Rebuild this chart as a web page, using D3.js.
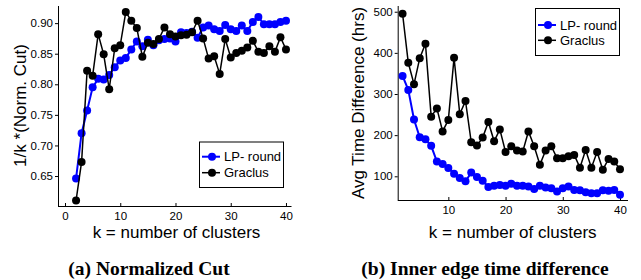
<!DOCTYPE html>
<html><head><meta charset="utf-8">
<script src="https://cdn.jsdelivr.net/npm/d3@7"></script>
<style>
body{margin:0;background:#fff;}
svg{display:block;}
text{font-family:"Liberation Sans",Arial,sans-serif;fill:#000;}
.cap{font-family:"Liberation Serif","Times New Roman",serif;font-weight:bold;}
</style></head><body>
<svg id="c" width="641" height="280"></svg>
<script>
const ks = d3.range(2, 41);
const seriesNames = ["LP- round", "Graclus"];
const ncutLP = [0.646,0.720,0.757,0.795,0.809,0.808,0.815,0.828,0.839,0.843,0.857,0.870,0.862,0.873,0.864,0.872,0.874,0.875,0.870,0.885,0.884,0.886,0.876,0.893,0.896,0.890,0.887,0.897,0.890,0.887,0.896,0.887,0.902,0.910,0.898,0.898,0.898,0.902,0.904];
const ncutGr = [0.610,0.673,0.822,0.814,0.882,0.849,0.792,0.859,0.864,0.918,0.904,0.892,0.845,0.868,0.866,0.874,0.893,0.882,0.878,0.880,0.881,0.885,0.904,0.875,0.842,0.846,0.817,0.874,0.844,0.851,0.855,0.860,0.871,0.853,0.851,0.862,0.853,0.877,0.857];
const timeLP = [344,310,238,195,190,174,136,130,120,106,96,88,109,98,89,74,77,79,77,82,77,77,75,69,77,73,71,63,71,75,67,66,61,59,59,66,65,67,55];
const timeGr = [495,376,324,387,422,245,265,209,237,388,251,283,183,175,194,232,185,214,159,173,163,160,209,173,128,163,173,144,144,149,152,121,164,121,159,116,142,136,117];
const ncutTicks = [0.65,0.70,0.75,0.80,0.85,0.90];
const timeTicks = [100,200,300,400,500];
const kTicksA = [0,10,20,30,40];
const kTicksB = [10,20,30,40];
const colors = ["#0000ff", "#000000"];

const svg = d3.select("#c");

function panel(cfg){
  const g = svg.append("g");
  const x = d3.scaleLinear().domain(cfg.xd).range(cfg.xr);
  const y = d3.scaleLinear().domain(cfg.yd).range(cfg.yr);
  const xa = g.append("g").attr("transform",`translate(0,${cfg.yr[0]})`)
    .call(d3.axisBottom(x).tickValues(cfg.xt).tickSizeInner(-3).tickSizeOuter(0).tickPadding(6).tickFormat(d3.format("d")));
  const ya = g.append("g").attr("transform",`translate(${cfg.xr[0]},0)`)
    .call(d3.axisLeft(y).tickValues(cfg.yt).tickSizeInner(3).tickSizeOuter(0).tickPadding(2).tickFormat(cfg.yf));
  [xa,ya].forEach(a=>{
    a.selectAll("text").style("font-size","11.5px").style("font-family","Liberation Sans, Arial, sans-serif").attr("fill","#000");
    a.selectAll("line,path").attr("stroke","#000");
  });
  ya.select("path").attr("d",`M0.5,${cfg.yr[1]}V${cfg.yr[0]}`);
  xa.select("path").attr("d",`M${cfg.xr[0]},0.5H${cfg.xr[1]}`);
  cfg.series.forEach((vals,i)=>{
    const pts = ks.map((k,j)=>[k, vals[j]]);
    g.append("path").datum(pts)
      .attr("fill","none").attr("stroke",colors[i]).attr("stroke-width", i===0?2:1.5)
      .attr("d", d3.line().x(d=>x(d[0])).y(d=>y(d[1])));
    g.selectAll(null).data(pts).enter().append("circle")
      .attr("cx",d=>x(d[0])).attr("cy",d=>y(d[1])).attr("r",4).attr("fill",colors[i]);
  });
  g.append("text").attr("x",cfg.xlab[0]).attr("y",cfg.xlab[1]).attr("text-anchor","middle")
    .style("font-size","17px").text("k = number of clusters");
  g.append("text").attr("transform",`translate(${cfg.ylab[0]},${cfg.ylab[1]}) rotate(-90)`)
    .attr("text-anchor","middle").style("font-size","17px").text(cfg.ylabText);
  const L = cfg.leg;
  g.append("rect").attr("x",L.x+0.5).attr("y",L.y+0.5).attr("width",L.w).attr("height",L.h)
    .attr("fill","#fff").attr("stroke","#000").attr("stroke-width",1);
  seriesNames.forEach((n,i)=>{
    const yy = L.y + L.first + i*L.gap;
    g.append("line").attr("x1",L.x+3).attr("x2",L.x+21).attr("y1",yy).attr("y2",yy)
      .attr("stroke",colors[i]).attr("stroke-width",i===0?2:1.5);
    g.append("circle").attr("cx",L.x+13).attr("cy",yy).attr("r",4).attr("fill",colors[i]);
    g.append("text").attr("x",L.x+25).attr("y",yy+4.5).style("font-size","13px").text(n);
  });
  g.append("text").attr("class","cap").attr("x",cfg.cap).attr("y",275).attr("text-anchor","middle")
    .style("font-size","19.5px").text(cfg.capText);
}

panel({
  xd:[-1.27,41.0], xr:[58,291.5], yd:[0.601,0.928], yr:[206,6],
  xt:kTicksA, yt:ncutTicks, yf:d3.format(".2f"),
  series:[ncutLP, ncutGr],
  xlab:[176.5,238], ylab:[26,105.5], ylabText:"1/k *(Norm. Cut)",
  leg:{x:199,y:141.5,w:84,h:45.5,first:15.2,gap:16},
  cap:149, capText:"(a) Normalized Cut"
});
panel({
  xd:[1.15,41.4], xr:[397.7,628], yd:[42.4,513.9], yr:[200,6],
  xt:kTicksB, yt:timeTicks, yf:d3.format("d"),
  series:[timeLP, timeGr],
  xlab:[512.7,238], ylab:[364,103], ylabText:"Avg Time Difference (hrs)",
  leg:{x:535,y:8,w:84,h:47,first:17,gap:15.3},
  cap:485, capText:"(b) Inner edge time difference"
});
</script>
</body></html>
